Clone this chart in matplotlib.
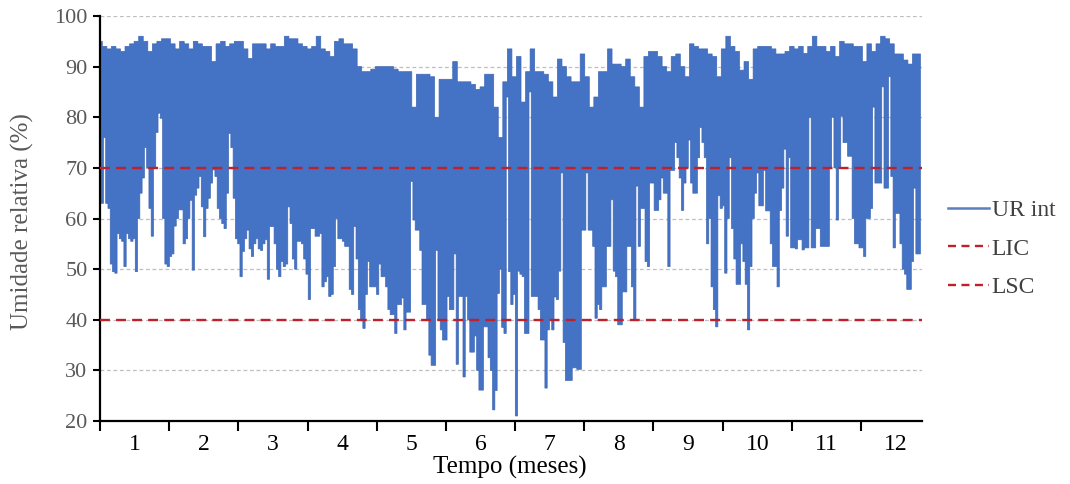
import numpy as np
import matplotlib
matplotlib.use("Agg")
import matplotlib.pyplot as plt
from matplotlib.lines import Line2D

# ---------------- data ----------------
# upper envelope of indoor RH, one value every 2 days (day 0 .. 360)
hi_step_days = 2
ur_max = [95, 94, 93.5, 94, 93.5, 93, 94, 94.5, 95, 96, 95, 93, 94.5, 95, 95.5, 95.5, 94.5, 93.5, 95, 94.5,
          93.5, 95, 94.5, 94, 94, 91, 94.5, 95, 94, 94.5,
          95, 95, 93.5, 91.6, 94.5, 94.5, 94.5, 93.5, 94.5, 94, 94, 96, 95.5, 95.5, 94.5, 94, 93.5, 94, 96, 93.5,
          93, 92, 95, 95.5, 94.5, 94.5, 93.5, 90, 89, 89,
          89.5, 90, 90, 90, 90, 89.5, 89, 89, 89, 82, 88.5, 88.5, 88.5, 88, 80, 87.5, 87.5, 87.5, 91, 87,
          87, 87, 86.5, 85.5, 86, 88.5, 88.5, 82, 76, 87,
          93.5, 88, 92, 83, 89, 93.5, 89, 89, 88.5, 87, 84, 91.5, 90, 88, 87, 87, 92.5, 88, 82, 84,
          89, 89, 93.5, 90.5, 90.5, 90, 91.5, 88, 86, 82,
          92, 93, 93, 92, 90, 89, 92, 92.5, 90, 88, 94.5, 94, 93.5, 93.5, 92.5, 92, 88, 93.5, 96, 94,
          93, 89.3, 91, 87.5, 93.5, 94, 94, 94, 93.5, 92.5,
          92.5, 93, 94, 93.5, 94, 92.6, 94, 96, 94, 94, 93, 94, 92, 95, 94.5, 94.5, 94, 94, 91, 94.5,
          93, 94.5, 96, 95.5, 94.5, 92.5, 92.5, 91.3, 90.5, 92.5, 92.5]

# lower envelope of indoor RH, one value per day (day 0 .. 360)
lo_step_days = 1
ur_min = [63, 63, 76, 63, 62, 51, 49.5, 49.2, 57, 56,
          55.5, 50.5, 57, 56, 55.5, 56, 49.5, 60, 65, 68,
          74, 70, 62, 56.5, 70, 77, 80.8, 79.8, 60, 51,
          50.5, 52.5, 53, 58.5, 60, 61.7, 61.7, 55, 56, 60,
          63.6, 49.8, 64.6, 66, 68.3, 62.3, 56.4, 62, 64, 67,
          69.6, 68.3, 62, 60, 59, 58, 65, 76.8, 74, 64,
          56, 55, 48.5, 53.5, 56, 57.7, 54, 52.5, 55, 56,
          54, 53.7, 55, 55.8, 48, 58.4, 58.4, 55, 50, 48.5,
          51.5, 50.5, 51, 62.3, 59, 52, 50, 55.5, 55.5, 55,
          52, 49, 44, 58, 58, 56.5, 56.5, 57, 46.5, 47.5,
          48.5, 44.6, 45, 50.5, 60, 56, 56, 55.5, 54.5, 54.5,
          46, 45, 58.4, 52, 42, 40, 38.3, 45, 51.5, 46.5,
          46.5, 46.5, 45, 51, 48.5, 48.5, 46.5, 42, 41, 41,
          37.3, 43, 43, 44.3, 38, 41.5, 41.5, 67.3, 59.7, 57.7,
          57.7, 53.7, 43, 43, 40, 33, 31, 31, 53.7, 40,
          38, 36, 36, 44.6, 42, 42, 53, 31.2, 44.6, 44.6,
          28.7, 44.6, 40, 33.6, 33.6, 36.8, 30, 26.1, 26.1, 38.6,
          38.6, 32.5, 30, 22.2, 26, 45.2, 50, 38.5, 37.3, 84,
          49.5, 43, 45, 21, 49.6, 49, 48.5, 37.3, 37.3, 85,
          44.6, 44.6, 44.6, 42, 36, 36, 26.5, 38, 40, 38,
          44.5, 44, 49.6, 69, 35.5, 28, 28, 28, 30.5, 30.5,
          30.2, 30.2, 57.7, 57.7, 69, 57.7, 57.7, 54.5, 40.3, 43,
          42, 46.5, 46.5, 54.5, 54.5, 63.7, 49.6, 48.5, 39, 39,
          45.5, 45.5, 54.5, 54.5, 46.5, 40, 66.4, 54.5, 62, 62,
          51.5, 50.5, 67, 67, 61.6, 61.6, 63.7, 68, 65, 65,
          50.5, 69.5, 69.5, 75, 72, 68, 61.6, 67, 70, 75.5,
          67, 65, 65, 72, 78, 75, 72, 55, 60, 46.5,
          42, 38.6, 64.5, 62, 62.5, 49.2, 60, 72, 58, 52,
          47, 47, 55, 51.5, 47, 38, 50.5, 60, 65, 69,
          62.5, 62.5, 69.5, 61.5, 61.5, 55, 50.5, 50.5, 46.5, 61.6,
          66, 73.7, 56.5, 72, 54.2, 54.2, 54, 55.8, 55.8, 53.8,
          54.2, 54.2, 80, 54.2, 54.2, 58, 58, 54.5, 54.5, 54.5,
          54.5, 70, 80, 70, 59.7, 70, 80.2, 75, 75, 72.3,
          72.3, 60, 55, 55, 54.2, 54.2, 52.5, 60, 60, 62,
          82, 67, 67, 67, 86, 66, 66, 88, 68.3, 54.2,
          61, 61, 55, 50, 49, 46, 46, 51.5, 66, 53,
          53]

lic = 40
lsc = 70
month_labels = [str(m) for m in range(1, 13)]
days_per_month = 30.4
series_labels = ["UR int", "LIC", "LSC"]

# ---------------- figure ----------------
plt.rcParams["font.family"] = ["Liberation Serif", "DejaVu Serif"]
fig = plt.figure(figsize=(10.70, 4.84), dpi=100)
ax = fig.add_axes([100 / 1070, 1 - 421 / 484, 822 / 1070, 405 / 484])

blue = "#4472C4"
red = "#C0202A"

# envelope polygon: upper edge (step, left->right) + lower edge (step, right->left)
hi = np.asarray(ur_max, float)
lo = np.asarray(ur_min, float)
hx = np.arange(len(hi)) * hi_step_days
lx = np.arange(len(lo)) * lo_step_days
x_end = lx[-1] + 0.5 * lo_step_days
h_l = np.clip(hx - 0.5 * hi_step_days, -0.5, x_end)
h_r = np.clip(hx + 0.5 * hi_step_days, -0.5, x_end)
l_l = np.clip(lx - 0.5 * lo_step_days, -0.5, x_end)
l_r = np.clip(lx + 0.5 * lo_step_days, -0.5, x_end)
up_x = np.column_stack([h_l, h_r]).ravel()
up_y = np.repeat(hi, 2)
dn_x = np.column_stack([l_l, l_r]).ravel()[::-1]
dn_y = np.repeat(lo, 2)[::-1]
ax.fill(np.concatenate([up_x, dn_x]), np.concatenate([up_y, dn_y]),
        facecolor=blue, edgecolor="#3F68B5", lw=0.5, zorder=2)

ax.axhline(lic, color=red, lw=1.7, dashes=(4.2, 2.6), zorder=3)
ax.axhline(lsc, color=red, lw=1.7, dashes=(4.2, 2.6), zorder=3)

ax.set_xlim(0, 361.2)
ax.set_ylim(20, 100)

ax.set_yticks(range(20, 101, 10))
ax.yaxis.grid(True, color="#BFBFBF", lw=0.9, dashes=(3, 2.2), zorder=0)
ax.set_axisbelow(True)

major = np.arange(0, 12) * days_per_month
minor = (np.arange(12) + 0.5) * days_per_month
ax.set_xticks(major)
ax.set_xticklabels([])
ax.set_xticks(minor, minor=True)
ax.set_xticklabels(month_labels, minor=True)
ax.tick_params(axis="x", which="major", direction="out", length=7, width=1.5, color="black")
ax.tick_params(axis="x", which="minor", length=0, pad=9, labelsize=17, labelcolor="black")
ax.tick_params(axis="y", direction="out", length=5, width=1.5, pad=4,
               labelsize=16, labelcolor="#595959")

for s in ["top", "right"]:
    ax.spines[s].set_visible(False)
for s in ["left", "bottom"]:
    ax.spines[s].set_linewidth(1.6)
    ax.spines[s].set_color("black")

fig.text(510 / 1070, 1 - 467 / 484, "Tempo (meses)", ha="center", va="center",
         fontsize=18, color="black")
fig.text(22 / 1070, 1 - 222 / 484, "Umidade relativa (%)", ha="center", va="center",
         rotation=90, fontsize=18, color="#595959")

handles = [Line2D([0], [0], color="#5B80BD", lw=1.8),
           Line2D([0], [0], color=red, lw=1.7, dashes=(3.4, 2.3)),
           Line2D([0], [0], color=red, lw=1.7, dashes=(3.4, 2.3))]
fig.legend(handles, series_labels, loc="center left",
           bbox_to_anchor=(948 / 1070, 1 - 249 / 484), frameon=False,
           fontsize=17, handlelength=1.75, handletextpad=0.1, labelspacing=0.72,
           labelcolor="#404040", borderaxespad=0, borderpad=0)

fig.savefig("out.png", dpi=100)
